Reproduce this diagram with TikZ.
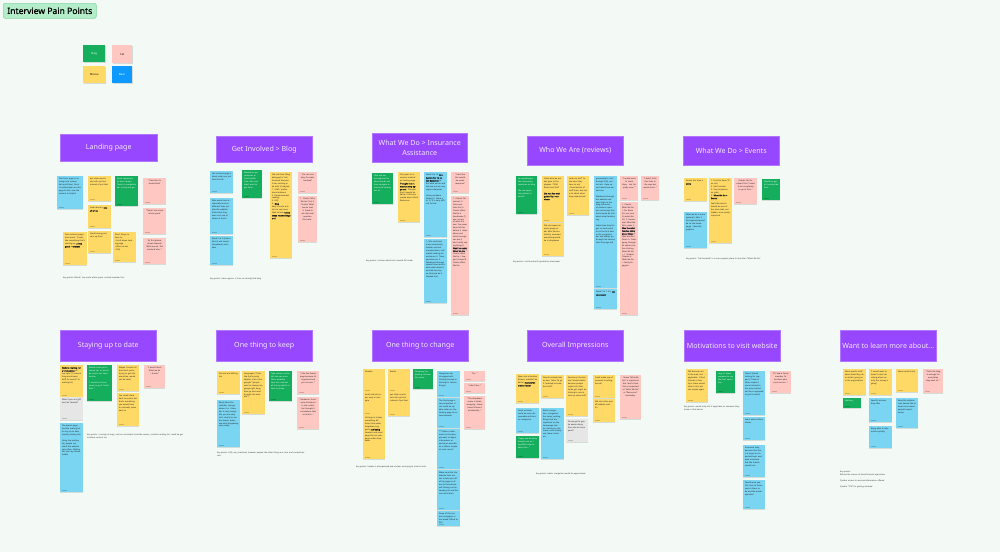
\documentclass[tikz,border=0pt]{standalone}
\usepackage{fontspec}
\setmainfont{Noto Sans}[AutoFakeBold=1.0]
\usetikzlibrary{shadows}
\definecolor{bg}{HTML}{F3FAF5}
\definecolor{hdrc}{HTML}{9747FF}
\definecolor{hdrt}{HTML}{F3E8FF}
\definecolor{stY}{HTML}{FFD966}
\definecolor{stB}{HTML}{7AD5F2}
\definecolor{stG}{HTML}{14AE5C}
\definecolor{stP}{HTML}{FFC7C2}
\definecolor{stE}{HTML}{E6E6E6}
\definecolor{bear}{HTML}{0D99FF}
\definecolor{ink}{HTML}{1E1E1E}
\definecolor{keyc}{HTML}{333333}
\definecolor{ttlf}{HTML}{B3EDC9}
\definecolor{ttld}{HTML}{8AD6A6}
\tikzset{
  stkbox/.style={inner sep=0pt,outer sep=0pt,drop shadow={shadow xshift=0.3pt,shadow yshift=-0.6pt,opacity=0.12,fill=black}},
  stktext/.style={inner sep=0pt,font=\fontsize{2}{2.9}\selectfont,align=left},
  sb/Y/.style={fill=stY},sb/B/.style={fill=stB},sb/G/.style={fill=stG},sb/P/.style={fill=stP},sb/Q/.style={fill=stP},sb/E/.style={fill=stE},
  st/Y/.style={text=ink},st/B/.style={text=ink},st/G/.style={text=white},st/P/.style={text=ink,align=center},st/Q/.style={text=ink},st/E/.style={text=ink},
  hdrbox/.style={fill=hdrc,draw=hdrc!75!white,line width=0.5pt,text=hdrt,font=\fontsize{7.1}{10.5}\selectfont,align=center,inner sep=0pt},
  keytext/.style={inner sep=0pt,font=\fontsize{2}{3}\selectfont,text=keyc,align=left,anchor=north west},
  legend/.style={inner sep=0pt,font=\fontsize{2.8}{3}\selectfont,minimum width=22pt,minimum height=17pt,anchor=north west,drop shadow={shadow xshift=0.3pt,shadow yshift=-0.6pt,opacity=0.12,fill=black}},
  ttl/.style={fill=ttlf,draw=ttld,line width=0.6pt,rounded corners=2pt,font=\bfseries\fontsize{8.6}{10}\selectfont,text=black,inner sep=0pt,minimum width=93pt,minimum height=15pt,anchor=north west}
}
\newcommand\stk[7]{%
  \pgfmathsetmacro\stkW{#5-#3}\pgfmathsetmacro\stkH{#6-#4}\pgfmathsetmacro\stkT{#5-#3-3.6}%
  \node[stkbox,sb/#2,minimum width=\stkW pt,minimum height=\stkH pt,anchor=north west] (#1) at (#3,#4) {};
  \node[stktext,st/#2,text width=\stkT pt,anchor=north west] (#1t) at ([xshift=1.8pt,yshift=-2pt]#1.north west) {#7};
  \fill[black,opacity=0.18] ([xshift=1.8pt,yshift=1.8pt]#1.south west) rectangle ++(5pt,0.6pt);
}
\newcommand\hdr[6]{%
  \pgfmathsetmacro\hdrW{#4-#2}\pgfmathsetmacro\hdrH{#5-#3}%
  \node[hdrbox,minimum width=\hdrW pt,minimum height=\hdrH pt,anchor=north west] (#1) at (#2,#3) {#6};
}
\newcommand\keypt[5]{\node[keytext,text width=#4pt] (#1) at (#2,#3) {#5};}
\begin{document}
\begin{tikzpicture}[x=1pt,y=-1pt]
\useasboundingbox[fill=bg] (0,0) rectangle (1000,552);
% title and legend
\node[ttl] (title) at (3,3) {Interview Pain Points};
\node[legend,fill=stG,text=white] (dog) at (83,45) {Dog};
\node[legend,fill=stP,text=ink,minimum width=20pt,minimum height=18pt] (cat) at (112,45) {Cat};
\node[legend,fill=stY,text=ink] (mouse) at (83,66) {Mouse};
\node[legend,fill=bear,text=white,minimum width=20pt] (bear) at (112,66) {Bear};
% headers row 1
\hdr{hLanding}{60}{134}{157}{161}{Landing page}
\hdr{hBlog}{216}{136}{312}{162}{Get Involved > Blog}
\hdr{hIns}{372}{133}{467}{162}{What We Do > Insurance\\Assistance}
\hdr{hWho}{527}{136}{623}{165}{Who We Are (reviews)}
\hdr{hEvents}{683}{136}{779}{165}{What We Do > Events}
% headers row 2
\hdr{hStay}{60}{330}{156}{361}{Staying up to date}
\hdr{hKeep}{216}{330}{312}{361}{One thing to keep}
\hdr{hChange}{372}{330}{468}{361}{One thing to change}
\hdr{hOverall}{527}{330}{623}{361}{Overall Impressions}
\hdr{hMotiv}{684}{330}{780}{361}{Motivations to visit website}
\hdr{hLearn}{840}{330}{936}{361}{Want to learn more about...}
% Landing page
\stk{l1}{B}{57}{176}{83}{209}{First front page is an image (not accessible) and (fake). Once I scrolled down on this page \& click, saw the content to helpful}
\stk{l2}{Y}{88}{176}{111}{201}{put other events and info up front instead of just that}
\stk{l3}{Y}{88}{205}{111}{228}{Looks barren, \textbf{lots of white}}
\stk{l4}{Y}{88}{231}{111}{253}{Liked having partners up front}
\stk{l5}{G}{115}{176}{138}{206}{Good impression to `basic design'. There's a navigation bar to help me go...}
\stk{l6}{P}{143}{178}{166}{204}{``I feel like it's kinda bland''}
\stk{l7}{P}{143}{208}{166}{234}{``There's too much white space''}
\stk{l8}{P}{143}{238}{166}{264}{``At first glance, drawn towards `What we do', `Get involved' also...''}
\stk{l9}{Y}{63}{232}{87}{265}{First noticed symposium event. ``Looks like something that's coming up, \textbf{pretty good + relevant}''}
\stk{l10}{Y}{113}{232}{136}{262}{Short things to have to: \par\textbullet~Scroll down landing page \par\textbullet~Who can we \par\textbullet~FAQ}
\keypt{kLanding}{63}{277}{100}{Key points: Bland / too much white space, noticed member first}
% Get Involved > Blog
\stk{b1}{B}{210}{171}{233}{193}{Get involved page is blank, what you just click the link}
\stk{b2}{B}{210}{198}{233}{234}{Man would and accidentally land on different links outside the website, thinks that they went out, one of where to find it}
\stk{b3}{B}{210}{236}{233}{265}{Need 7 to 3 (had to find it) and needs (dropdown) available}
\stk{b4}{G}{242}{170}{262}{198}{Wanted to see resources at Front Health Care talks, but didn't want to get there}
\stk{b5}{Y}{270}{172}{292}{258}{Did not think `Blog' belonged in `Get Involved' because it has nothing to do with it (maybe): \par 1. Staff / professional advisors \par 2. Recommended reading \par 3. FAQ \par 4. \textbf{Blog} \par Easy to enter articles to see more, liked to look \textbf{below these recent things and}}
\stk{b6}{P}{298}{172}{317}{193}{``I'm not sure why it's under Involved''}
\stk{b7}{P}{298}{196}{317}{242}{1. Checks `Who We Are' first 2. Checks `What we do' next 3. Need to ask alternate question. Find cate...}
\keypt{kBlog}{210}{278}{90}{Key points: takes approx. 4 tries to actually find blog}
% Insurance
\stk{i1}{G}{372}{173}{393}{204}{That and we are approach to about words and then navigate to insurance looking out at...}
\stk{i2}{Y}{398}{172}{420}{222}{First goes to insurance medical as landing page. \textbf{Thought that it was not very apparent.} Thought that it would be better if this one maybe been info \& Resources}
\stk{i3}{B}{424}{172}{447}{237}{Need 3 to 13 \textbf{navigation bar to select based on} to the what we do and also we are are very vague categories \par\vspace{3pt} Having problem finding it. Need 5 to 13, it is very difficult to find}
\stk{i4}{B}{424}{239}{447}{303}{1. Was confused it was covered by families and not transportation, individuals looking for assistance 2. Transportation etc 3. Wandered through several times and is what when doesn't and did not stay on what we do 4. Needed hint}
\stk{i5}{P}{451}{172}{469}{193}{``I feel like this would be under resources''}
\stk{i6}{Q}{451}{196}{469}{315}{1. Checks `Resources' 2. Goes over links first 3. Checks What We Do 4. Sandboxes (?) was unsure of what this was, I've never heard of this before 5. Goes above and looks through nav bar (I don't really see anything) 6. \textbf{Was like under What We Do} 7. Checks What We Do > Support Groups 8. Checks What We Do...}
\keypt{kIns}{366}{260}{90}{Key points: Unclear which tab it would fall under}
% Who We Are
\stk{w1}{G}{516}{176}{537}{214}{He would begin fine consuming resources on blog \par\vspace{3pt} `We can appreciate (where it would...'}
\stk{w2}{Y}{542}{176}{564}{222}{Clicks who we are but goes to Employees / TFAR Board and Staff \par\vspace{3pt} \textbf{Did not find well guided by interviewer}}
\stk{w3}{Y}{542}{223}{564}{256}{Did not expect an entire page under Who We Are directly, assumed everything would be in dropdown}
\stk{w4}{Y}{567}{176}{589}{215}{Looks to staff ``to see what they have to say'' \par\textbullet~Good details of staff there, but not a lot about what they experienced}
\stk{w5}{B}{594}{176}{617}{288}{proceeded to click through FAQ, contact etc. Gave up and asked how we had one. \par\vspace{3pt} Wandered through the website and went back to the blog (influence of previous question assuming) that there would be info about what families say \par\vspace{3pt} Asked how they forgot to check what to on the first best in the navigation bar and always go through the second level the page ask}
\stk{w6}{B}{594}{289}{617}{309}{Need 7 to 1 3 is \textbf{not consistent}}
\stk{w7}{P}{620}{176}{638}{200}{``I would want to check blog... but I'm pretty sure...''}
\stk{w8}{Q}{620}{202}{638}{315}{1. Checks What We Do > Our Book (I'm not sure it's what this is?) 2. Hovers over What We Do's under 3. \textbf{Was the what families think about blogs} 4. Who We Are > Photo 5. Starts going through all options before clicking What We Do > 1. Patients Chapter 6. What We Do > Family Engagem...}
\stk{w9}{P}{641}{176}{659}{200}{``I didn't think this links to the reps but would treat...''}
\keypt{kWho}{513}{261}{90}{Key points: not found with guided by interviewer}
% Events
\stk{e1}{Y}{684}{178}{707}{201}{Found, but took a \textbf{while}}
\stk{e2}{B}{684}{212}{707}{248}{What we do is more (general). Miss it and glanced (would be on the homepage). Liked the graphics}
\stk{e3}{Y}{709}{178}{732}{243}{1. First Go Here (TV on sth) \par 2. Get Involved \par 3. Stay Anywhere on (ads) \par 4. \textbf{What We Do > Events} \par\vspace{3pt} Feels like events should be one of the main tabs, not hidden, since pretty important}
\stk{e4}{P}{734}{178}{757}{204}{Checks `Get Involved' first (`I want to be completely to go to first...'}
\stk{e5}{G}{762}{179}{780}{200}{Would try get to Involved tab first...}
\keypt{kEvents}{686}{258}{100}{Key points: ``Get Involved'' is a more popular place to look than ``What We Do''}
% Staying up to date
\stk{s1}{Y}{60}{365}{83}{397}{\textbf{Website mailing list and donation} on top right (``I assume they would send stuff for events'' to mailing list)}
\stk{s2}{E}{60}{397}{83}{420}{What if you are `gift' and not `donate'?}
\stk{s3}{B}{60}{423}{83}{492}{The events page and the mailing list to stay up to date (mostly mailing list) \par\vspace{3pt} Using the mailing list, people not check the website very often. Mailing list, not very discoverable}
\stk{s4}{G}{87}{365}{112}{401}{Would check get involved tab, or would go to join our heart section. \par\vspace{3pt} ``I would not know where to go if I don't find...''}
\stk{s5}{Y}{117}{365}{139}{391}{Maybe `Contact Us' (but don't you're trying to get info everytime, would not be ideal)}
\stk{s6}{Y}{117}{393}{139}{426}{You could check back to events, but that's something you would have to manually come back to}
\stk{s7}{P}{144}{365}{165}{388}{``I would check What we do > Events''}
\keypt{kStay}{87}{434}{96}{Key points: a variety of ways, not too consistent (could be events, could be mailing list, could be get involved, contact us)}
% One thing to keep
\stk{k1}{Y}{217}{371}{240}{394}{Donate and Mailing List}
\stk{k2}{B}{217}{400}{240}{447}{Really liked the calendar, change where it is. Calendar is very navigable, you are easy click, clearly to see the events, dates, see what happening very neatly}
\stk{k3}{Y}{242}{371}{265}{414}{Languages (``I feel like that's pretty helpful, a lot of languages'' ``people want to change language right away, then go and read through the website'')}
\stk{k4}{G}{269}{371}{292}{401}{Take session on the left side see once. Other websites have this now but all the top (which is hard to show)...}
\stk{k5}{P}{297}{371}{319}{394}{``I like the Events page because it's organized and you can see...''}
\stk{k6}{P}{297}{397}{319}{429}{``Guidance/ Insurance Assistance is also useful, but thought it somewhere that is hard to...''}
\keypt{kKeep}{217}{452}{88}{Key points: FAQ, very scattered, however people like other things are clear and comprehensive}
% One thing to change
\stk{c1}{Y}{363}{369}{385}{392}{Shadow}
\stk{c2}{Y}{363}{392}{385}{415}{small and not super easy to navigate}
\stk{c3}{Y}{363}{415}{385}{459}{clicking on it does something different than what dropdown suggests \textbf{confusing}. Headers and main page link are subpage under dropdown}
\stk{c4}{Y}{388}{369}{410}{392}{Events}
\stk{c5}{Y}{388}{392}{410}{416}{put other events and info up front instead of just that}
\stk{c6}{G}{413}{369}{433}{389}{Grouping/ improving information more...}
\stk{c7}{B}{437}{371}{460}{397}{Navigation bar (struggled with clicking through or looking for certain things)}
\stk{c8}{B}{437}{398}{460}{428}{The front page is very important, it can could be update, when on the landing page to announcements}
\stk{c9}{B}{437}{429}{460}{469}{``** Make a statement on that people want to digest information as quickly as possible on a ribbon maybe on main sense''}
\stk{c10}{B}{437}{470}{460}{510}{Make sure that the website links are not to take you off of the page so often (he found himself clicking on the heading list and the nice back later)}
\stk{c11}{B}{437}{511}{460}{526}{Some of the content navigation is too broad (``What to Do'')}
\stk{c12}{P}{464}{371}{485}{381}{``Fix...''}
\stk{c13}{P}{464}{383}{485}{393}{``I don't like...''}
\stk{c14}{P}{464}{396}{485}{429}{``The dropdown menu is kinda annoying. Sometimes I'd lose it accidentally...''}
\keypt{kChange}{356}{466}{90}{Key points: header is disorganized and unclear, annoying to interact with}
% Overall impressions
\stk{o1}{Y}{516}{374}{539}{403}{Were into at bottom (footer), wouldn't be better, \textbf{more information faster}}
\stk{o2}{B}{516}{408}{539}{433}{Good contents, could be more discoverable with better navigation}
\stk{o3}{G}{516}{436}{539}{458}{``Pages can be more thought out as I wouldn't know to adopt this...''}
\stk{o4}{Y}{541}{375}{564}{398}{Overall noticed tabs as own, ``what I'd go if I wanted to know that stuff''}
\stk{o5}{B}{541}{408}{564}{459}{Better navigation, reorganize the menu, putting things that are important on the homepage, better naming on the menu, more clearly see, fewer colors etc.}
\stk{o6}{Y}{566}{375}{588}{416}{Secrets on the bottom `kinda hidden' because people might miss that. Some got might be clicking to one to look up some stuff}
\stk{o7}{E}{566}{419}{588}{442}{Do we get to gentle aware along from site at some point?}
\stk{o8}{Y}{593}{375}{615}{398}{Could make use of carousel/ scrolling format?}
\stk{o9}{Y}{593}{399}{615}{422}{Did not notice was off website until it's}
\stk{o10}{P}{620}{375}{641}{419}{I know ``Who We Are'' is important, but I don't think this as important as ``What We Do'' or ``Resources''. I probably...}
\keypt{kOverall}{536}{473}{90}{Key points: better navigation would be appreciated}
% Motivations
\stk{m1}{Y}{686}{369}{708}{402}{Will because not in the area, but applicable. If had Friends or family in times would look to this, but not maybe again}
\stk{m2}{G}{716}{371}{735}{393}{long it's down, someone to say like their operation...}
\stk{m3}{B}{743}{371}{765}{415}{Topics/ theme looking for support (``I look at Fiber, maybe it more tailored to the more individual like as opposed to just families'')}
\stk{m4}{B}{743}{417}{765}{440}{Learn about others stories}
\stk{m5}{B}{743}{445}{765}{477}{Insurance help, because that this is a huge/ an important topic and even insurance feel like friends would care}
\stk{m6}{B}{743}{480}{765}{509}{Would want specific lines of those now to them to be and like actual specialist}
\stk{m7}{P}{770}{371}{791}{393}{``If I had a family member, I'd be there who come out on...''}
\keypt{kMotiv}{684}{406}{56}{Key points: would only visit if applicable to someone they know in that barrier}
% Want to learn more
\stk{a1}{Y}{843}{369}{866}{395}{More specific stuff about what they do or what's going on in the organization}
\stk{a2}{G}{843}{398}{861}{408}{Nothing...}
\stk{a3}{Y}{869}{369}{892}{395}{``I would want to know if more donating where exactly the money is going''}
\stk{a4}{B}{869}{398}{892}{422}{Specific services they offer}
\stk{a5}{B}{869}{426}{892}{448}{Being able to take actions quickly}
\stk{a6}{Y}{896}{369}{918}{392}{More medical info}
\stk{a7}{B}{896}{398}{918}{428}{Read the testimonials (would like to know more about people's experiences)}
\stk{a8}{P}{923}{369}{943}{393}{``Think the blog is enough for everything they want to...''}
\keypt{kLearn}{840}{471}{100}{Key points:\\Behind the scenes of team/financial operations\\[3pt]Quicker access to services/information offered\\[3pt]Quicker ``CTA'' for getting involved}
\end{tikzpicture}
\end{document}
